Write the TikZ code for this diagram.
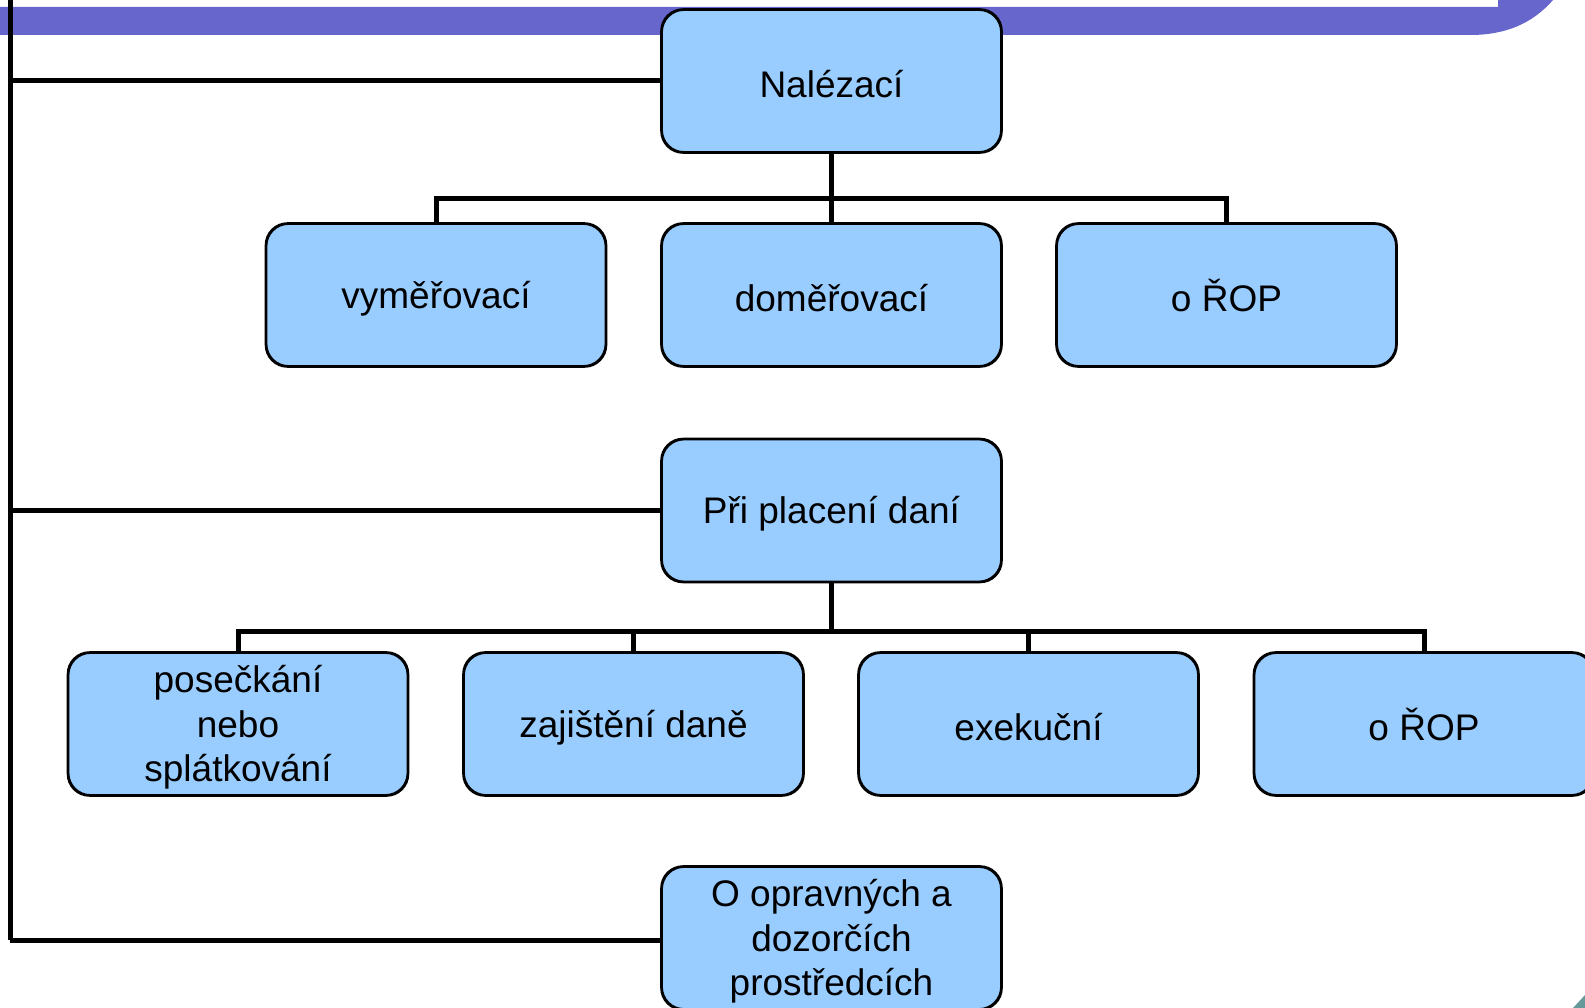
\documentclass[tikz,border=0pt]{standalone}
\usepackage{fontspec}
\setmainfont{Liberation Sans}
\definecolor{boxfill}{RGB}{153,204,255}
\definecolor{band}{RGB}{102,102,204}
\definecolor{teal}{RGB}{102,153,153}
\newcommand\sst{\rule[-1pt]{0pt}{35pt}}
\tikzset{
  box/.style={draw=black, line width=1.8pt, fill=boxfill, rounded corners=22pt,
    minimum width=339pt, minimum height=142pt, inner sep=0pt, align=center,
    font=\fontsize{37}{44.5}\selectfont},
  conn/.style={draw=black, line width=5pt}
}
\begin{document}
\begin{tikzpicture}[x=1pt,y=-1pt]
\useasboundingbox (0,0) rectangle (1585,1008);
% decorative band
\fill[band] (0,7) -- (1498,7) -- (1498,0) -- (1553,0) .. controls (1532,24) and (1505,35) .. (1470,35) -- (0,35) -- cycle;
\fill[teal] (1573,1008) -- (1585,995) -- (1585,1008) -- cycle;
% nodes
\node[box] (nal) at (831.5,81) {\sst Nalézací};
\node[box] (vym) at (436,295) {\sst vyměřovací};
\node[box] (dom) at (831.5,295) {\sst doměřovací};
\node[box] (rop1) at (1226.5,295) {\sst o ŘOP};
\node[box] (pri) at (831.5,510.5) {\sst Při placení daní};
\node[box] (pos) at (238,724) {\sst posečkání\\\sst nebo\\\sst splátkování};
\node[box] (zaj) at (633.5,724) {\sst zajištění daně};
\node[box] (exe) at (1028.5,724) {\sst exekuční};
\node[box] (rop2) at (1424,724) {\sst o ŘOP};
\node[box] (opr) at (831.5,938) {\sst O opravných a\\\sst dozorčích\\\sst prostředcích};
% connectors
\coordinate (top) at (10,0);
\coordinate (bot) at (10,940);
\coordinate (b1) at (831.5,199);
\coordinate (b2) at (831.5,631);
\draw[conn] (top) -- (bot);
\draw[conn] (top |- nal.west) -- (nal.west);
\draw[conn] (top |- pri.west) -- (pri.west);
\draw[conn] (bot) -- (bot -| opr.west);
\draw[conn] (nal.south) -- (b1);
\draw[conn] (vym.north) -- (vym.north |- b1) -- (rop1.north |- b1) -- (rop1.north);
\draw[conn] (b1) -- (dom.north);
\draw[conn] (pri.south) -- (b2);
\draw[conn] (pos.north) -- (pos.north |- b2) -- (rop2.north |- b2) -- (rop2.north);
\draw[conn] (zaj.north |- b2) -- (zaj.north);
\draw[conn] (exe.north |- b2) -- (exe.north);
% redraw box outlines over connector ends
\foreach \n in {nal,vym,dom,rop1,pri,pos,zaj,exe,rop2,opr} {
  \draw[line width=1.8pt, rounded corners=22pt] (\n.north west) rectangle (\n.south east);
}
\end{tikzpicture}
\end{document}
